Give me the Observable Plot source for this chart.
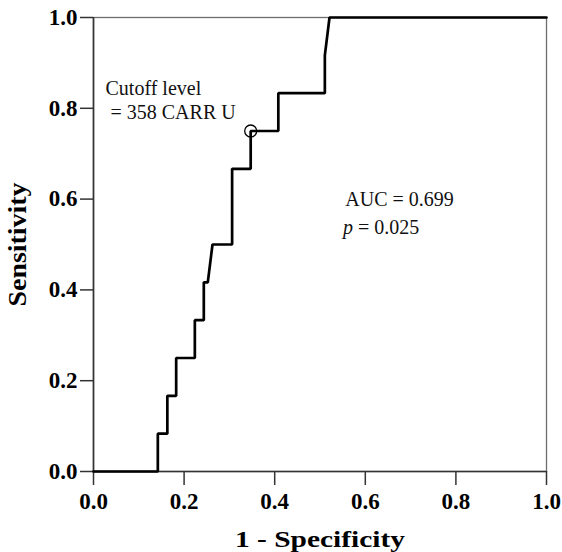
<!DOCTYPE html>
<html><head><meta charset="utf-8">
<script src="https://cdn.jsdelivr.net/npm/d3@7"></script>
<script src="https://cdn.jsdelivr.net/npm/@observablehq/plot@0.6"></script>
<style>body{margin:0;background:#fff}</style>
</head><body><div id="chart"></div>
<script>
// ROC curve points (1 - specificity, sensitivity)
const fpr = [0, 0.142, 0.142, 0.163, 0.163, 0.1825, 0.1825, 0.2237, 0.2237, 0.2435, 0.2435, 0.2523, 0.2627, 0.306, 0.306, 0.347, 0.347, 0.408, 0.408, 0.5107, 0.5107, 0.521, 1];
const tpr = [0, 0, 0.0833, 0.0833, 0.1667, 0.1667, 0.25, 0.25, 0.3333, 0.3333, 0.4167, 0.4167, 0.5, 0.5, 0.6667, 0.6667, 0.75, 0.75, 0.8333, 0.8333, 0.9167, 1, 1];
const cutoffFpr = [0.347];
const cutoffTpr = [0.75];
const tickValues = [0, 0.2, 0.4, 0.6, 0.8, 1.0];
const tickLabels = ["0.0", "0.2", "0.4", "0.6", "0.8", "1.0"];
const xTitle = "1 - Specificity";
const yTitle = "Sensitivity";
const cutoffText = ["Cutoff level", "= 358 CARR U"];
const aucText = "AUC = 0.699";
const pText = ["p", "= 0.025"];

const roc = fpr.map((x, i) => ({x, y: tpr[i]}));
const cutoff = cutoffFpr.map((x, i) => ({x, y: cutoffTpr[i]}));
const fmt = d => tickLabels[tickValues.indexOf(d)];
const serif = "'Liberation Serif', 'Times New Roman', serif";

const chart = Plot.plot({
  width: 562, height: 552,
  marginLeft: 93, marginRight: 16, marginTop: 17, marginBottom: 81,
  style: {fontFamily: serif, background: "#fff", color: "#000", overflow: "visible"},
  x: {domain: [0, 1]},
  y: {domain: [0, 1]},
  marks: [
    Plot.frame({stroke: "#6e6e6e", strokeWidth: 1.3}),
    Plot.ruleX([0], {stroke: "#333", strokeWidth: 1.6}),
    Plot.ruleY([0], {stroke: "#333", strokeWidth: 1.6}),
    Plot.axisX({ticks: tickValues, tickFormat: fmt, tickSize: 14, tickPadding: 7,
      fontSize: 23, fontWeight: "bold", strokeWidth: 1.5, stroke: "#333",
      label: xTitle, labelAnchor: "center", labelArrow: "none", labelOffset: 75}),
    Plot.axisY({ticks: tickValues, tickFormat: fmt, tickSize: 13, tickPadding: 3,
      fontSize: 23, fontWeight: "bold", strokeWidth: 1.5, stroke: "#333",
      label: yTitle, labelAnchor: "center", labelArrow: "none", labelOffset: 85}),
    Plot.line(roc, {x: "x", y: "y", stroke: "#000", strokeWidth: 2.7, strokeLinejoin: "miter"}),
    Plot.dot(cutoff, {x: "x", y: "y", r: 6, stroke: "#000", fill: "none", strokeWidth: 1.3}),
    Plot.text([cutoffText[0]], {x: 0.0265, y: 0.843, text: d => d, textAnchor: "start", fontSize: 20, fill: "#111"}),
    Plot.text([cutoffText[1]], {x: 0.0375, y: 0.790, text: d => d, textAnchor: "start", fontSize: 20, fill: "#111"}),
    Plot.text([aucText], {x: 0.556, y: 0.598, text: d => d, textAnchor: "start", fontSize: 20, fill: "#111"}),
    Plot.text([pText[0]], {x: 0.551, y: 0.538, text: d => d, textAnchor: "start", fontSize: 20, fontStyle: "italic", fill: "#111"}),
    Plot.text([pText[1]], {x: 0.584, y: 0.538, text: d => d, textAnchor: "start", fontSize: 20, fill: "#111"})
  ]
});
// widen the axis titles to the proportions of the reference
d3.select(chart).selectAll('g[aria-label="x-axis label"] text')
  .attr("font-size", 23).attr("textLength", 170).attr("lengthAdjust", "spacingAndGlyphs");
d3.select(chart).selectAll('g[aria-label="y-axis label"] text')
  .attr("font-size", 25).attr("textLength", 124).attr("lengthAdjust", "spacingAndGlyphs");
document.getElementById("chart").appendChild(chart);
</script>
</body></html>
